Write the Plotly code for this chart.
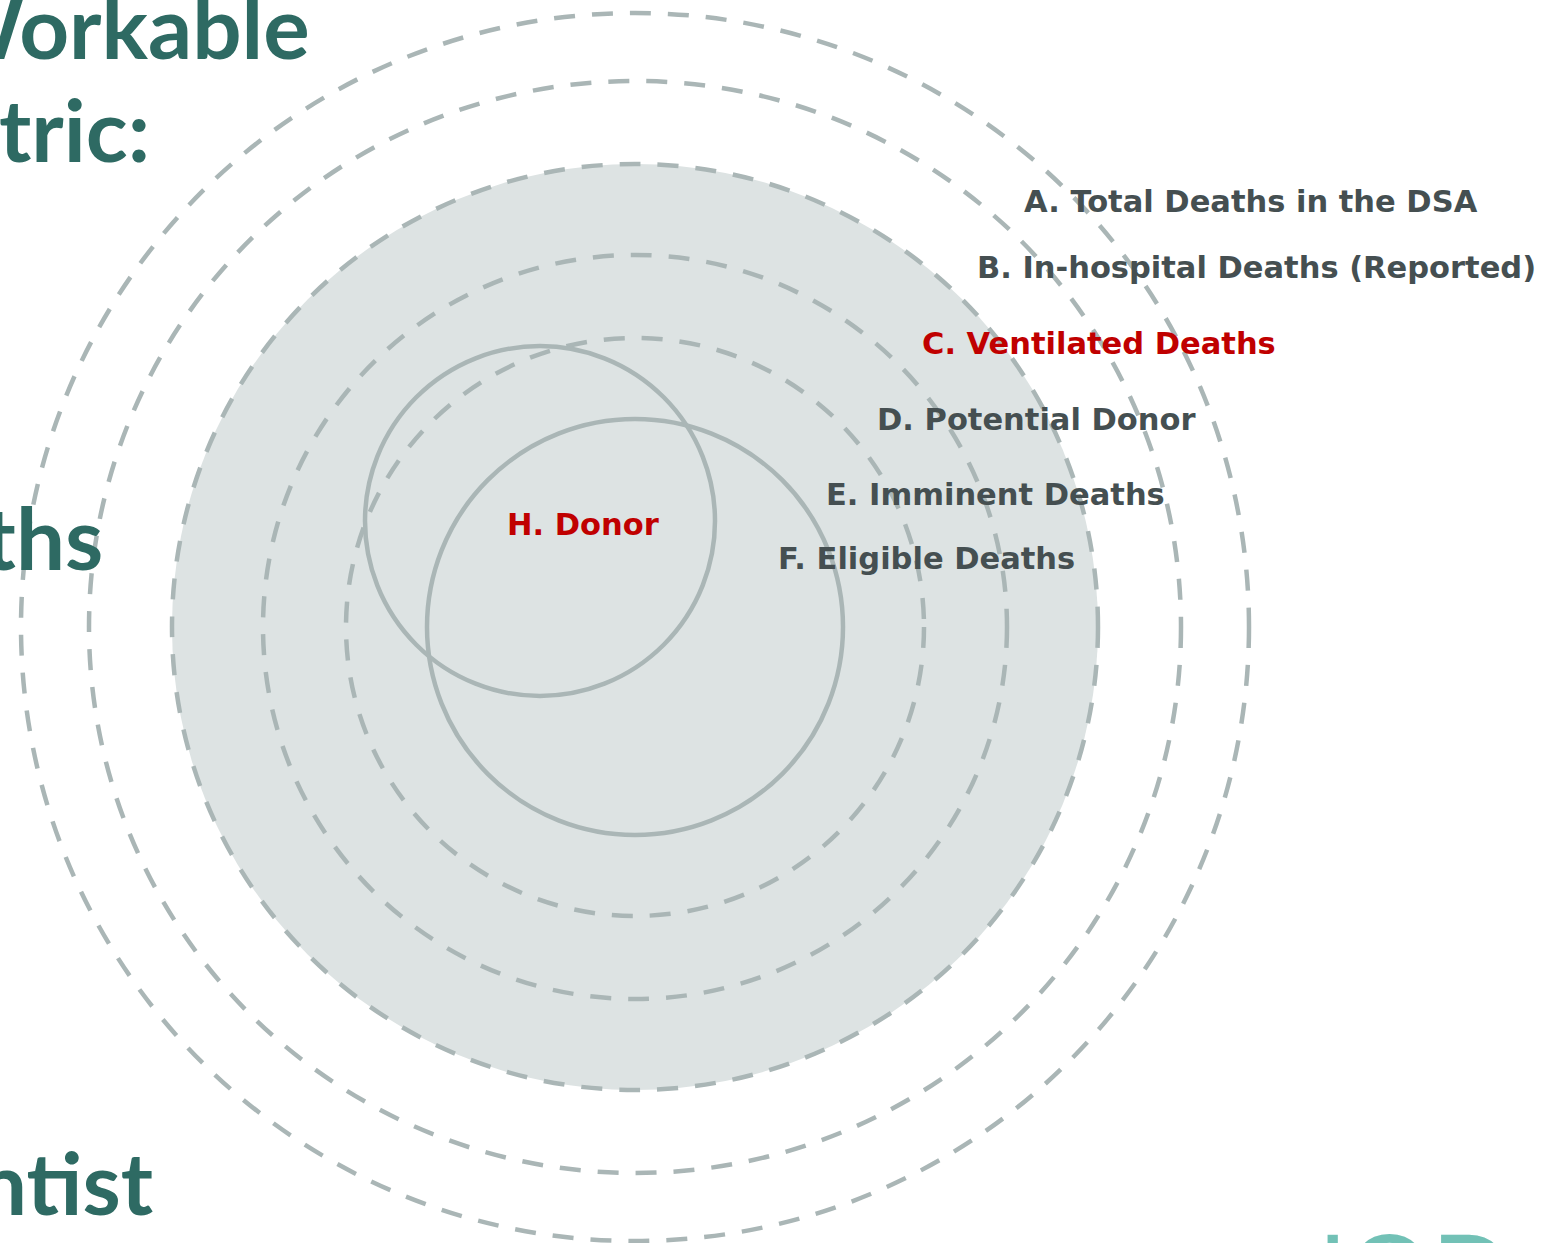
import plotly.graph_objects as go

# ---- data ----
ring_names = ["A. Total Deaths in the DSA", "B. In-hospital Deaths (Reported)",
              "C. Ventilated Deaths", "D. Potential Donor", "E. Imminent Deaths",
              "F. Eligible Deaths", "H. Donor"]
ring_radius = [614, 546, 463, 372, 289, 208, 175]
ring_style = ["dash", "dash", "dash-fill", "dash", "dash", "solid", "solid"]
highlight = [False, False, True, False, False, False, True]

title_lines = ["Workable", "Metric:", "Deaths", "Scientist"]
logo_text = "IOD"

# ---- layout constants (pixels) ----
W, H = 1552, 1243
CX, CY = 635, 627
HX, HY = 540, 521
LINE = "#aab6b6"
FILL = "#dde3e3"
DARK = "#454f51"
RED = "#c00000"
TEAL = "#2e6a63"

label_pos = [(1022, 201), (975, 267), (920, 343), (875, 419), (824, 494), (776, 558), (505, 524)]
title_pos = [(312, 25), (152, 128), (105, 536), (155, 1181)]

fig = go.Figure()
fig.add_trace(go.Scatter(x=[0, W], y=[0, H], mode="markers", marker=dict(opacity=0), hoverinfo="skip", showlegend=False))

shapes = []
for name, r, st in zip(ring_names, ring_radius, ring_style):
    if st == "dash-fill":
        shapes.append(dict(type="circle", xref="x", yref="y", x0=CX - r, x1=CX + r, y0=CY - r, y1=CY + r,
                           fillcolor=FILL, line=dict(width=0), layer="below"))
for name, r, st in zip(ring_names, ring_radius, ring_style):
    cx, cy = (HX, HY) if name.startswith("H.") else (CX, CY)
    dash = "solid" if st == "solid" else "21px,17px"
    shapes.append(dict(type="circle", xref="x", yref="y", x0=cx - r, x1=cx + r, y0=cy - r, y1=cy + r,
                       line=dict(color=LINE, width=4.5, dash=dash), layer="above"))

annotations = []
for name, (lx, ly), hl in zip(ring_names, label_pos, highlight):
    annotations.append(dict(x=lx, y=ly, xref="x", yref="y", text=name, showarrow=False,
                            xanchor="left", yanchor="middle",
                            font=dict(family="DejaVu Sans", size=30.5, color=RED if hl else DARK, weight="bold")))
for t, (tx, ty) in zip(title_lines, title_pos):
    annotations.append(dict(x=tx, y=ty, xref="x", yref="y", text=t, showarrow=False,
                            xanchor="right", yanchor="middle",
                            font=dict(family="Lato", size=87, color=TEAL, weight="bold")))
annotations.append(dict(x=1316, y=1204, xref="x", yref="y", text=logo_text, showarrow=False,
                        xanchor="left", yanchor="top",
                        font=dict(family="Lato", size=105, color="#72c1b6")))

fig.update_layout(
    width=W, height=H, margin=dict(l=0, r=0, t=0, b=0),
    paper_bgcolor="white", plot_bgcolor="white",
    xaxis=dict(range=[0, W], visible=False, fixedrange=True),
    yaxis=dict(range=[H, 0], visible=False, fixedrange=True),
    shapes=shapes, annotations=annotations, showlegend=False,
)
fig.write_html("out.html", post_script="document.body.style.margin='0';", config={"displayModeBar": False})
